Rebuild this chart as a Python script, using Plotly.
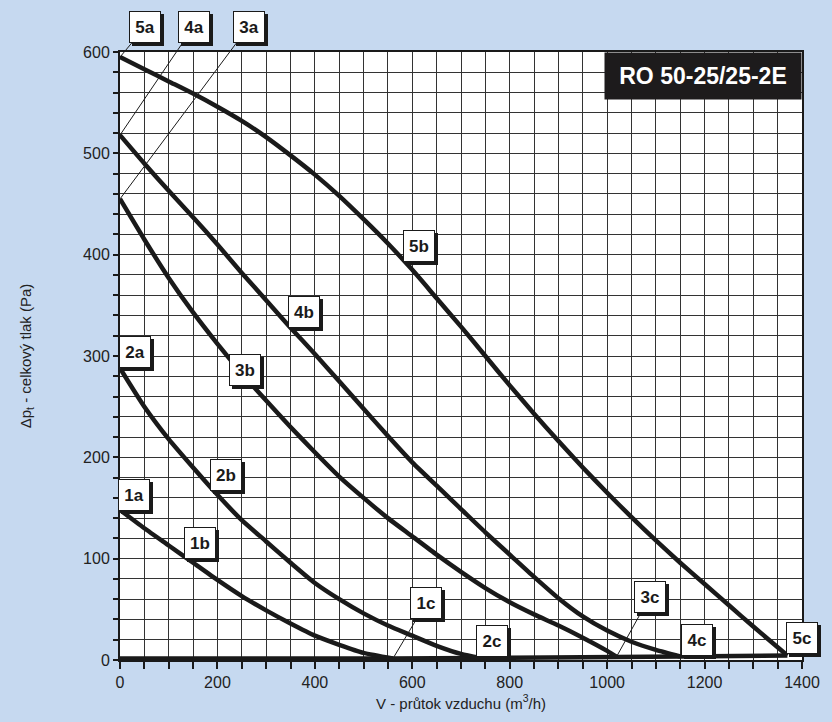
import plotly.graph_objects as go

# ---- data ----
x1 = [0, 50, 100, 150, 200, 250, 300, 350, 400, 450, 500, 560]
y1 = [148, 130, 113, 96, 79, 63, 49, 36, 24, 15, 7, 1.5]

x2 = [0, 50, 100, 150, 200, 250, 300, 350, 400, 450, 500, 550, 600, 650, 700, 740]
y2 = [288, 250, 218, 190, 163, 138, 117, 96, 76, 60, 46, 34, 24, 14, 6, 2]

x3 = [0, 50, 100, 150, 200, 250, 300, 350, 400, 450, 500, 550, 600, 650, 700, 750, 800, 850, 900, 950, 1000, 1020]
y3 = [455, 415, 377, 343, 312, 283, 256, 230, 205, 181, 160, 140, 122, 104, 87, 71, 57, 45, 34, 22, 9, 3]

x4 = [0, 50, 100, 150, 200, 250, 300, 350, 400, 450, 500, 550, 600, 650, 700, 750, 800, 850, 900, 950, 1000, 1050, 1100, 1150]
y4 = [518, 490, 463, 437, 410, 382, 355, 328, 302, 275, 248, 221, 195, 172, 149, 126, 104, 82, 61, 43, 29, 18, 10, 3.5]

x5 = [0, 50, 100, 150, 200, 250, 300, 350, 400, 450, 500, 550, 600, 650, 700, 750, 800, 850, 900, 950, 1000, 1050, 1100, 1150, 1200, 1250, 1300, 1370]
y5 = [595, 583, 571, 559, 546, 532, 516, 498, 479, 458, 435, 411, 385, 357, 329, 300, 271, 243, 216, 190, 165, 141, 118, 96, 75, 54, 33, 4.5]

base_x = [0, 560, 740, 1020, 1150, 1370]
base_y = [1.5, 1.5, 2, 3, 3.5, 4.5]

x_ticks = [0, 200, 400, 600, 800, 1000, 1200, 1400]
y_ticks = [0, 100, 200, 300, 400, 500, 600]

title_text = "RO 50-25/25-2E"

# curve labels: (text, label x, label y, leader target x, leader target y or None)
labels = [
    ("5a", 52, 625, 0, 595),
    ("4a", 151, 625, 0, 518),
    ("3a", 264, 625, 0, 455),
    ("2a", 30, 304, None, None),
    ("1a", 28, 163, None, None),
    ("1b", 165, 115, None, None),
    ("2b", 217, 183, None, None),
    ("3b", 256, 286, None, None),
    ("4b", 378, 343, None, None),
    ("5b", 613, 409, None, None),
    ("1c", 628, 56, 561, 2),
    ("2c", 763, 19, None, None),
    ("3c", 1087, 62, 1019, 3),
    ("4c", 1184, 20, None, None),
    ("5c", 1399.5, 22, None, None),
]

FONT = "Liberation Sans, Arial, sans-serif"
LINE = "#1a1a1a"

fig = go.Figure()
for xs, ys in [(base_x, base_y), (x1, y1), (x2, y2), (x3, y3), (x4, y4), (x5, y5)]:
    fig.add_trace(go.Scatter(x=xs, y=ys, mode="lines",
                             line=dict(color=LINE, width=4.5, shape="spline", smoothing=0.6),
                             hoverinfo="skip", showlegend=False))

ann = []
box = dict(borderwidth=1, borderpad=3, width=24, height=24)
for txt, lx, ly, px, py in labels:
    t = "<b>%s</b>" % txt
    blank = "&#160;"
    if px is None:
        ann.append(dict(x=lx, y=ly, xref="x", yref="y", text=blank, showarrow=False,
                        font=dict(family=FONT, size=17, color=LINE), bgcolor=LINE,
                        bordercolor=LINE, xshift=3, yshift=-3, **box))
        ann.append(dict(x=lx, y=ly, xref="x", yref="y", text=t, showarrow=False,
                        font=dict(family=FONT, size=17, color=LINE), bgcolor="white",
                        bordercolor=LINE, **box))
    else:
        common = dict(x=px, y=py, xref="x", yref="y", ax=lx, ay=ly, axref="x", ayref="y",
                      showarrow=True, arrowhead=0, arrowwidth=1, standoff=0,
                      font=dict(family=FONT, size=17, color=LINE), bordercolor=LINE, **box)
        ann.append(dict(common, text=blank, bgcolor=LINE, arrowcolor="rgba(0,0,0,0)",
                        xshift=3, yshift=-3))
        ann.append(dict(common, text=t, bgcolor="white", arrowcolor=LINE))

ann.append(dict(x=1, y=1, xref="paper", yref="paper", xanchor="right", yanchor="top",
                text="<b>%s</b>" % title_text, showarrow=False,
                font=dict(family=FONT, size=23, color="white"), bgcolor="#1d1b1c",
                borderpad=5, width=186, height=36))

fig.update_layout(
    width=832, height=722,
    margin=dict(l=120, r=18, t=52, b=61),
    paper_bgcolor="#c6d9f0",
    plot_bgcolor="white",
    font=dict(family=FONT, size=16, color="#222222"),
    annotations=ann,
    xaxis=dict(range=[0, 1400], tickvals=x_ticks, ticks="outside", ticklen=7, tickwidth=1.5,
               tickcolor=LINE, showgrid=True, gridcolor="#333333", gridwidth=1,
               minor=dict(dtick=50, tick0=0, ticks="outside", ticklen=7, tickcolor=LINE,
                          showgrid=True, gridcolor="#333333", gridwidth=1),
               showline=True, linecolor=LINE, linewidth=2, mirror=True, zeroline=False,
               tickfont=dict(size=16, color="#222222"),
               title=dict(text="V - průtok vzduchu (m<sup>3</sup>/h)", font=dict(size=15, color="#222222"), standoff=8)),
    yaxis=dict(range=[0, 600], tickvals=y_ticks, ticks="outside", ticklen=5, tickwidth=1.5,
               tickcolor=LINE, showgrid=True, gridcolor="#333333", gridwidth=1,
               minor=dict(dtick=20, tick0=0, ticks="outside", ticklen=5, tickcolor=LINE,
                          showgrid=True, gridcolor="#333333", gridwidth=1),
               showline=True, linecolor=LINE, linewidth=2, mirror=True, zeroline=False,
               tickfont=dict(size=16, color="#222222"),
               title=dict(text="Δp<sub>t</sub> - celkový tlak (Pa)", font=dict(size=15, color="#222222"), standoff=48)),
)

fig.write_html("out.html", config={"displayModeBar": False},
               post_script="document.body.style.margin='0';")
